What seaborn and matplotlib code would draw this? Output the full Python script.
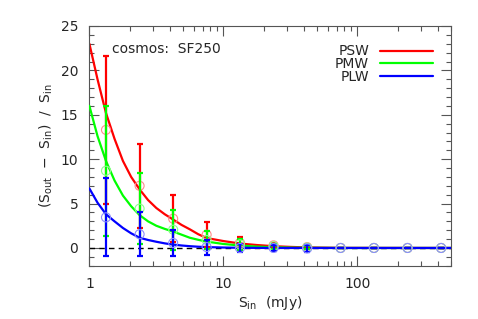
import numpy as np
import pandas as pd
import matplotlib
matplotlib.use("Agg")
import matplotlib.pyplot as plt
import seaborn as sns
from matplotlib.ticker import MultipleLocator, LogLocator, FixedLocator, FixedFormatter, NullFormatter

# data
x_pts = [1.33, 2.37, 4.22, 7.5, 13.3, 23.7, 42.2, 75, 133, 237, 422]
psw_val = [13.3, 7.0, 3.3, 1.5, 0.58, 0.3, 0.1, 0, 0, 0, 0]
psw_err = [8.3, 4.7, 2.65, 1.43, 0.64, 0.3, 0.15, 0, 0, 0, 0]
pmw_val = [8.7, 4.43, 2.06, 0.9, 0.4, 0.2, 0.05, 0, 0, 0, 0]
pmw_err = [7.3, 4.0, 2.24, 1.0, 0.6, 0.3, 0.2, 0, 0, 0, 0]
plw_val = [3.45, 1.55, 0.56, 0.1, 0.0, 0.0, -0.05, 0, 0, 0, 0]
plw_err = [4.4, 2.5, 1.5, 0.85, 0.45, 0.35, 0.4, 0, 0, 0, 0]

x_curve = [1, 1.15, 1.33, 1.54, 1.78, 2.05, 2.37, 2.74, 3.16, 3.65, 4.22, 4.87,
           5.62, 6.49, 7.5, 10, 13.3, 17.8, 23.7, 31.6, 42, 75, 500]
psw_curve = [23.0, 19.0, 15.2, 12.3, 9.8, 8.0, 6.6, 5.4, 4.5, 3.8, 3.2, 2.6,
             2.1, 1.55, 1.12, 0.78, 0.5, 0.33, 0.2, 0.12, 0.06, 0.01, 0]
pmw_curve = [16.0, 12.6, 9.8, 7.6, 5.9, 4.7, 3.7, 3.0, 2.5, 2.15, 1.85, 1.5,
             1.15, 0.92, 0.72, 0.45, 0.28, 0.15, 0.08, 0.04, 0.02, 0, 0]
plw_curve = [6.7, 5.1, 3.8, 3.0, 2.25, 1.65, 1.15, 0.9, 0.7, 0.52, 0.38, 0.28,
             0.2, 0.14, 0.1, 0.05, 0.02, 0.01, 0, 0, 0, 0, 0]

bands = ['PSW', 'PMW', 'PLW']
colors = ['#ff0000', '#00ff00', '#0000ff']
light = ['#ff8c8c', '#8cff8c', '#8c8cff']

sns.set_style("ticks")
plt.rcParams['font.family'] = ['DejaVu Sans']
plt.rcParams['font.size'] = 10

fig = plt.figure(figsize=(4.78, 3.19), dpi=100)
ax = fig.add_axes([0.187, 0.167, 0.9435 - 0.187, 0.9185 - 0.167])

ax.axhline(0, color='black', lw=1, ls=(0, (4, 3)), zorder=1)

vals = [psw_val, pmw_val, plw_val]
errs = [psw_err, pmw_err, plw_err]
curves = [psw_curve, pmw_curve, plw_curve]

for i, b in enumerate(bands):
    df = pd.DataFrame({'x': x_curve, 'y': curves[i]})
    sns.lineplot(data=df, x='x', y='y', ax=ax, color=colors[i], lw=1.6,
                 label=b, zorder=2 + i)

for i, b in enumerate(bands):
    ax.errorbar(x_pts, vals[i], yerr=errs[i], fmt='none', ecolor=colors[i],
                elinewidth=1.6, capsize=2, capthick=1.6, zorder=5 + i)
    sns.scatterplot(x=x_pts, y=vals[i], ax=ax, marker='o', s=42,
                    facecolor='none', edgecolor=light[i], linewidth=0.8,
                    zorder=5 + i)

ax.set_xscale('log')
ax.set_xlim(1, 500)
ax.set_ylim(-2, 25)
ax.yaxis.set_major_locator(MultipleLocator(5))
ax.yaxis.set_minor_locator(MultipleLocator(1))
ax.xaxis.set_major_locator(FixedLocator([1, 10, 100]))
ax.xaxis.set_major_formatter(FixedFormatter(['1', '10', '100']))
ax.xaxis.set_minor_locator(LogLocator(base=10, subs=np.arange(2, 10)))
ax.xaxis.set_minor_formatter(NullFormatter())
ax.tick_params(which='both', direction='in', top=True, right=True, color='#555555')
ax.tick_params(which='major', length=7, width=0.8, labelsize=10, pad=8)
ax.tick_params(which='minor', length=3.5, width=0.8)
for s in ax.spines.values():
    s.set_color('#555555')
    s.set_linewidth(0.8)

ax.set_xlabel('S$_{\\rm in}$  (mJy)', fontsize=10, labelpad=2)
ax.set_ylabel('(S$_{\\rm out}$  \u2212  S$_{\\rm in}$)  /  S$_{\\rm in}$', fontsize=10)
ax.text(0.062, 0.905, 'cosmos:  SF250', transform=ax.transAxes, fontsize=10,
        ha='left', va='center')

ax.legend(loc='upper right', frameon=False, markerfirst=False, handlelength=3.8,
          handletextpad=0.8, labelspacing=-0.1, fontsize=10,
          bbox_to_anchor=(0.985, 0.975))

fig.savefig('out.png', dpi=100)
